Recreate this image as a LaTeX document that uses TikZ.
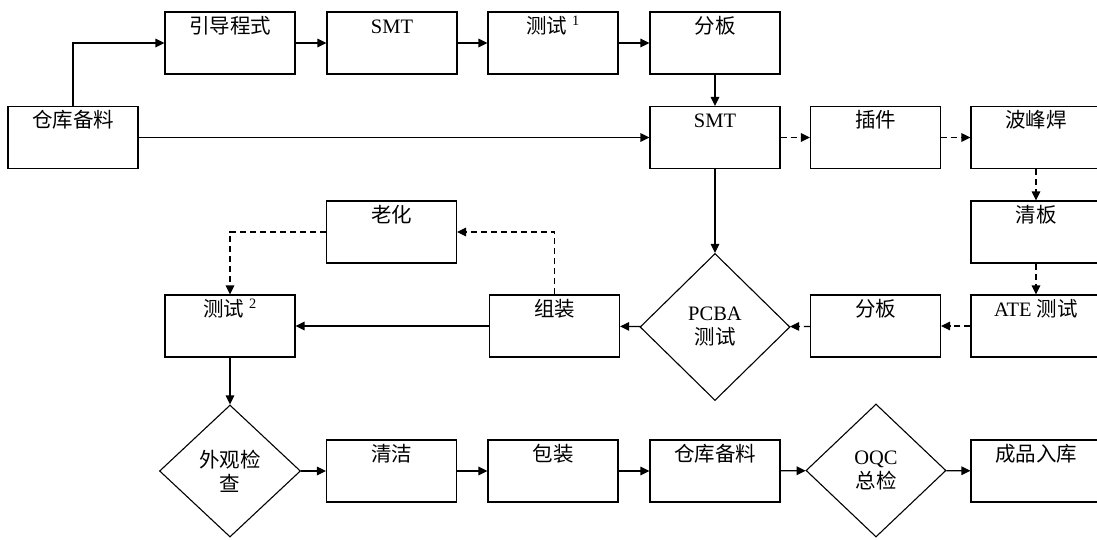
\documentclass[tikz,border=0pt]{standalone}
\usepackage{fontspec}
\setmainfont{Liberation Serif}
\newfontfamily\cjk{Noto Sans CJK SC}
\usetikzlibrary{arrows.meta,shapes.geometric}

\begin{document}
\begin{tikzpicture}[x=1pt, y=-1pt,
	font=\fontsize{20.5}{24}\selectfont,
	stepbox/.style={draw, line width=1.1pt, minimum width=130pt, inner xsep=0pt, inner ysep=0pt, text height=21pt, text depth=41pt},
	checkbox/.style={draw, diamond, line width=1.1pt, inner sep=0pt, align=center},
	flow/.style={line width=1.2pt, -{Triangle[length=9pt,width=8.5pt]}},
	dashflow/.style={flow, dash pattern=on 6pt off 4pt}]
	\useasboundingbox (0,0) rectangle (1097,539);
	
	% Top row
	\node[stepbox] (stockA) at (73,137.5) {{\cjk 仓库备料}};
	\node[stepbox] (guide) at (230,43) {{\cjk 引导程式}};
	\node[stepbox] (smtA) at (392,43) {SMT};
	\node[stepbox] (testA) at (553,43) {{\cjk 测试} \textsuperscript{1}};
	\node[stepbox] (splitA) at (715,43) {{\cjk 分板}};
	
	% Middle rows
	\node[stepbox] (smtB) at (715,137.5) {SMT};
	\node[stepbox] (insert) at (875.5,137.5) {{\cjk 插件}};
	\node[stepbox] (wave) at (1036,137.5) {{\cjk 波峰焊}};
	\node[stepbox] (cleanA) at (1036,232) {{\cjk 清板}};
	\node[stepbox] (ate) at (1036,326) {ATE {\cjk 测试}};
	\node[stepbox] (splitB) at (875.5,326) {{\cjk 分板}};
	\node[checkbox, minimum width=150pt, minimum height=147pt] (pcba) at (715,327) {PCBA\\{\cjk 测试}};
	\node[stepbox] (assy) at (554.5,326) {{\cjk 组装}};
	\node[stepbox] (aging) at (391.5,232) {{\cjk 老化}};
	\node[stepbox] (testB) at (230,326) {{\cjk 测试} \textsuperscript{2}};
	
	% Bottom row
	\node[checkbox, minimum width=141pt, minimum height=132pt] (visual) at (230,471) {{\cjk 外观检}\\{\cjk 查}};
	\node[stepbox] (cleanB) at (391.5,471) {{\cjk 清洁}};
	\node[stepbox] (pack) at (553,471) {{\cjk 包装}};
	\node[stepbox] (stockB) at (715,471) {{\cjk 仓库备料}};
	\node[checkbox, minimum width=140pt, minimum height=133pt] (oqc) at (876,470.5) {OQC\\{\cjk 总检}};
	\node[stepbox] (store) at (1036,471) {{\cjk 成品入库}};
	
	% Solid flow
	\draw[flow] (stockA.north) |- (guide.west);
	\draw[flow] (guide) -- (smtA);
	\draw[flow] (smtA) -- (testA);
	\draw[flow] (testA) -- (splitA);
	\draw[flow] (splitA) -- (smtB);
	\draw[flow] (stockA) -- (smtB);
	\draw[flow] (smtB) -- (pcba);
	\draw[flow] (pcba) -- (assy);
	\draw[flow] (assy) -- (testB);
	\draw[flow] (testB) -- (visual);
	\draw[flow] (visual) -- (cleanB);
	\draw[flow] (cleanB) -- (pack);
	\draw[flow] (pack) -- (stockB);
	\draw[flow] (stockB) -- (oqc);
	\draw[flow] (oqc) -- (store);
	
	% Dashed flow
	\draw[dashflow] (smtB) -- (insert);
	\draw[dashflow] (insert) -- (wave);
	\draw[dashflow] (wave) -- (cleanA);
	\draw[dashflow] (cleanA) -- (ate);
	\draw[dashflow] (ate) -- (splitB);
	\draw[dashflow] (splitB) -- (pcba);
	\draw[dashflow] (assy.north) |- (aging.east);
	\draw[dashflow] (aging.west) -| (testB.north);
\end{tikzpicture}
\end{document}
